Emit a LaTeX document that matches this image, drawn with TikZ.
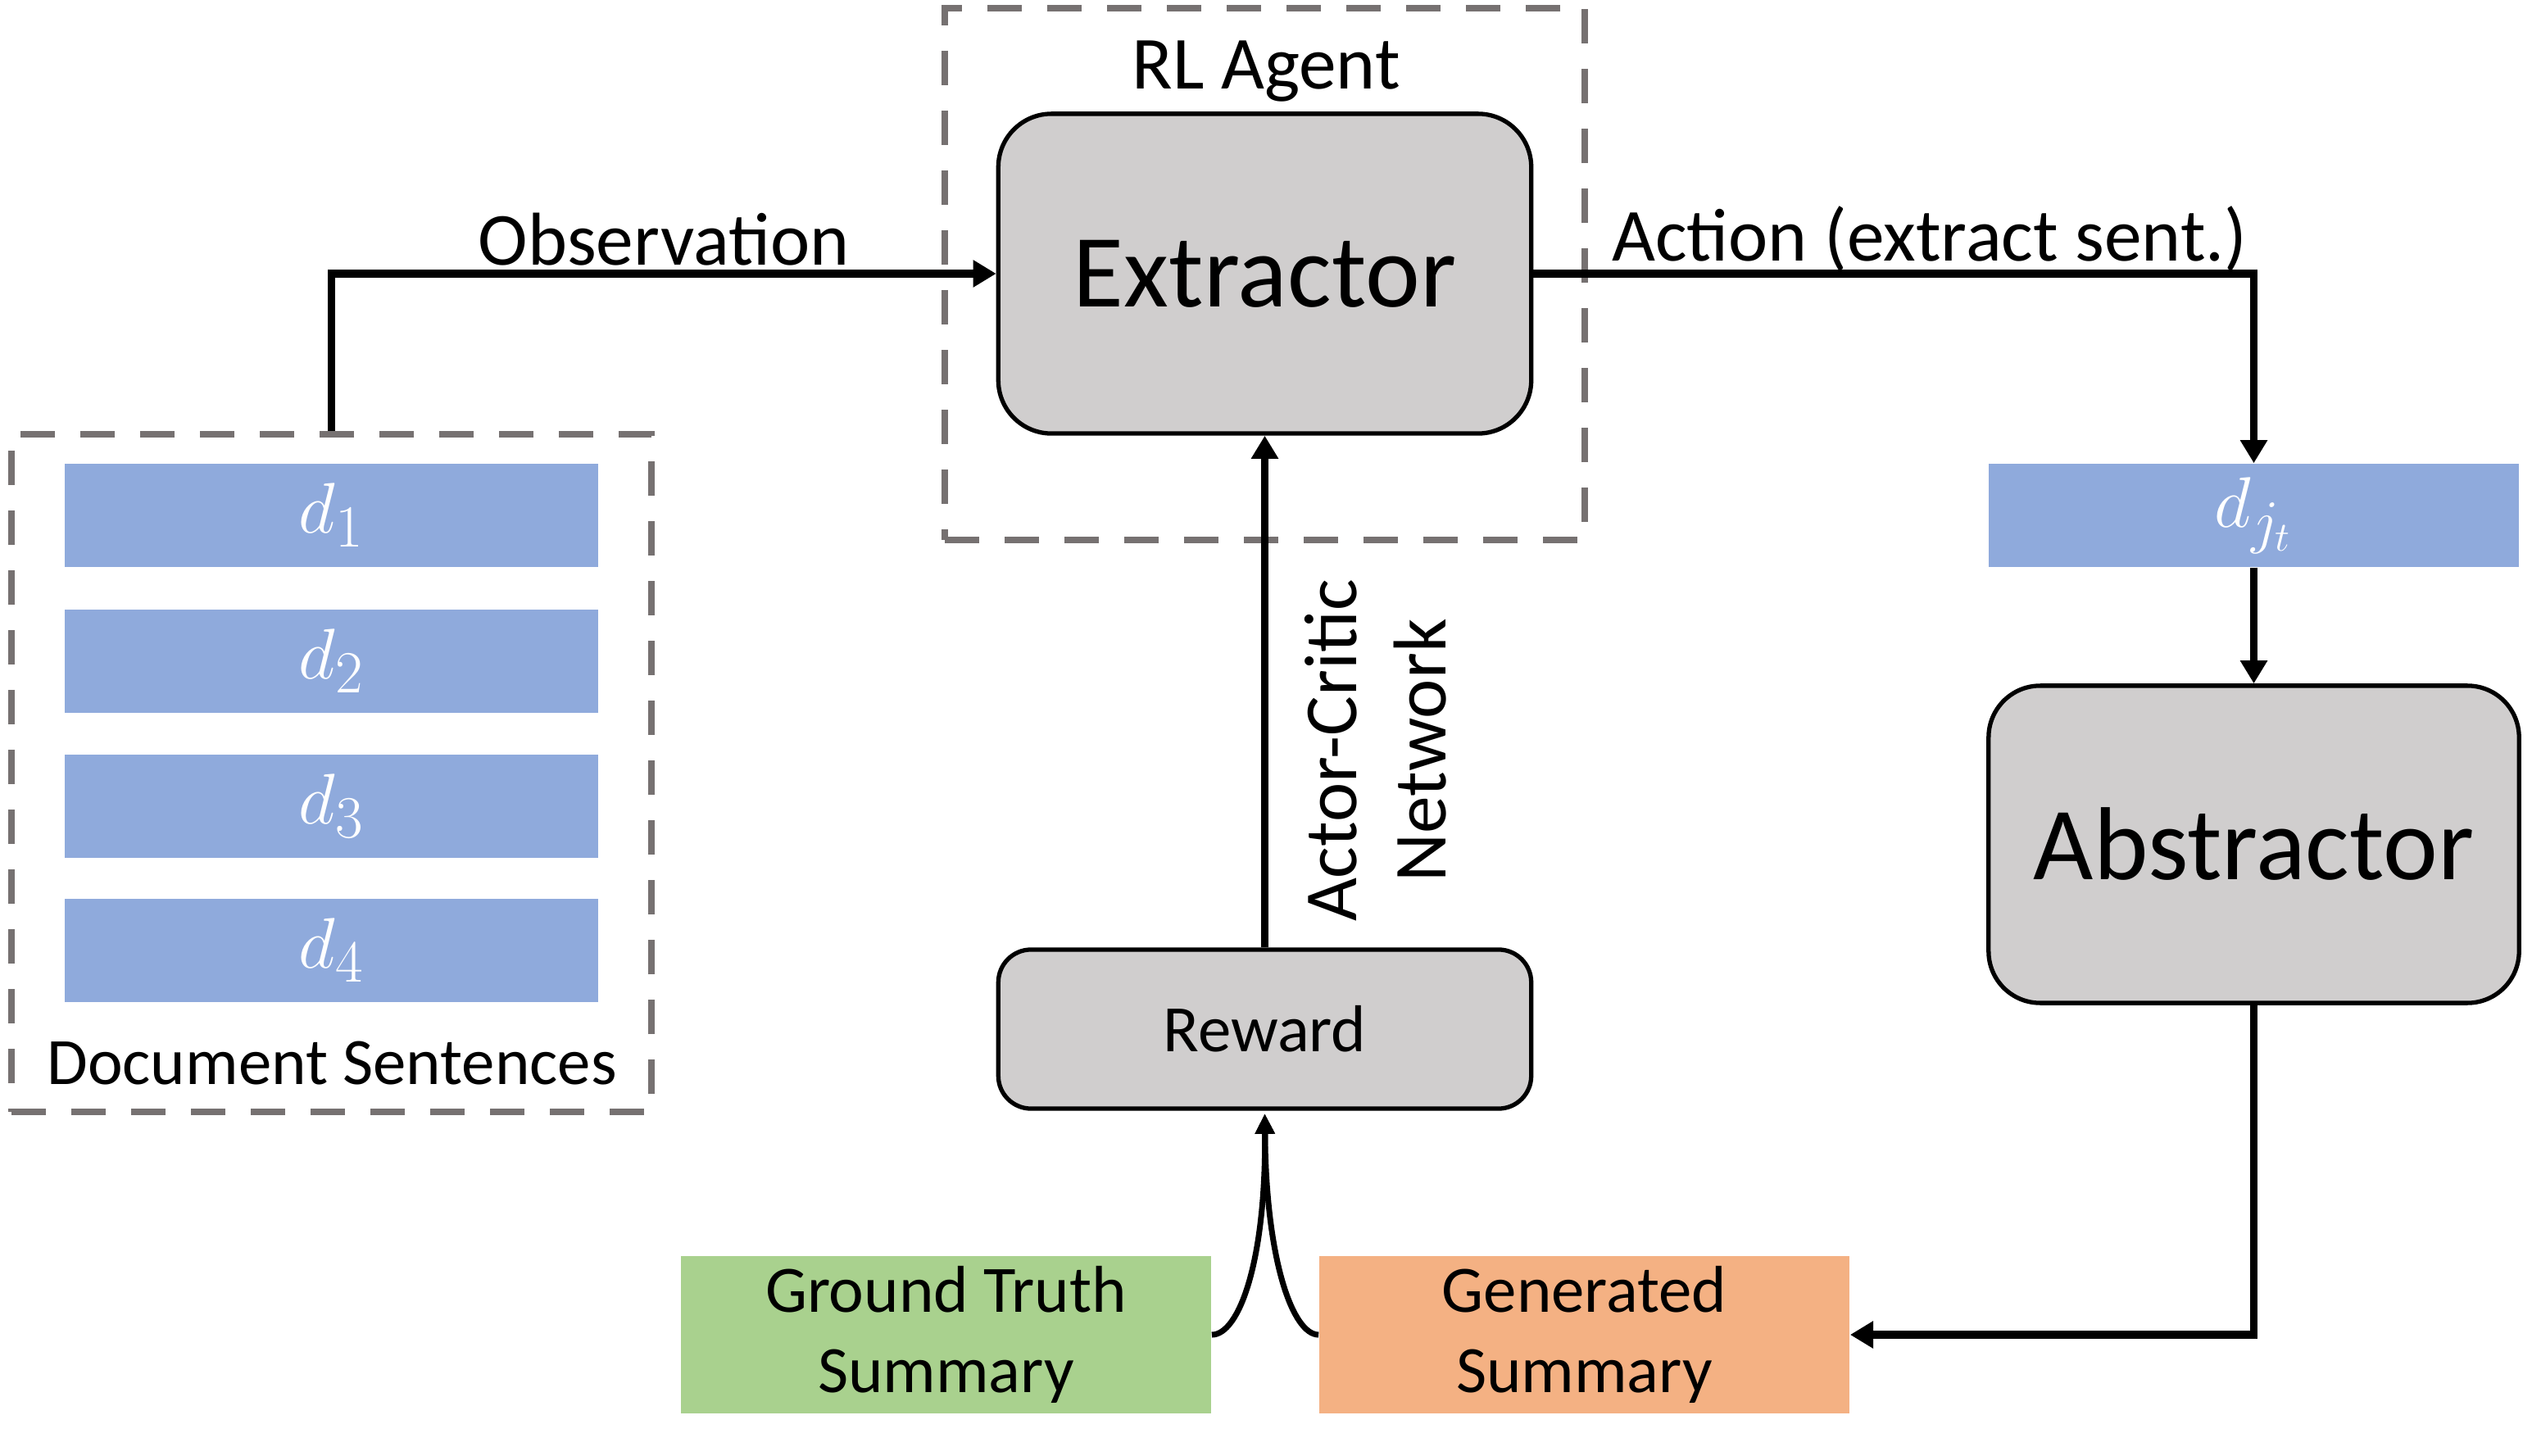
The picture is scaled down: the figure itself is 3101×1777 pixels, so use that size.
\documentclass[tikz,border=0pt]{standalone}
\usepackage{fontspec}
\setmainfont{Carlito}
\usetikzlibrary{arrows.meta}
\definecolor{barblue}{HTML}{8FAADC}
\definecolor{boxgray}{HTML}{D0CECE}
\definecolor{dashgray}{HTML}{767171}
\definecolor{gtgreen}{HTML}{A9D18E}
\definecolor{genorange}{HTML}{F4B183}
\tikzset{
  dashbox/.style={draw=dashgray, line width=2.4pt, dash pattern=on 0.42cm off 0.31cm, minimum width=7.81cm},
  bar/.style={fill=barblue, minimum width=6.5cm, minimum height=1.26cm, inner sep=0pt, text=white, font=\fontsize{28}{32}\selectfont},
  module/.style={draw=black, line width=1.5pt, fill=boxgray, rounded corners=0.65cm, minimum width=6.5cm, minimum height=3.9cm, font=\fontsize{36}{42}\selectfont},
  sumbox/.style={minimum width=6.47cm, minimum height=1.92cm, align=center, font=\fontsize{23}{28}\selectfont},
  lbl/.style={font=\fontsize{26}{31}\selectfont},
  conn/.style={line width=2.8pt, -{Triangle[length=8pt,width=9pt]}},
  thinconn/.style={line width=2pt, -{Triangle[length=7pt,width=6.5pt]}},
}
\begin{document}
\begin{tikzpicture}[x=0.01cm, y=-0.01cm]
\useasboundingbox (0,0) rectangle (3101,1777);
% dashed containers
\node[dashbox, minimum height=8.27cm] (docbox) at (404.5,943.5) {};
\node[dashbox, minimum height=6.49cm] (agentbox) at (1543.5,334.5) {};
% document sentences
\node[bar] (d1) at (404.5,629) {$d_1$};
\node[bar] (d2) at (404.5,807) {$d_2$};
\node[bar] (d3) at (404.5,984) {$d_3$};
\node[bar] (d4) at (404.5,1160) {$d_4$};
\node[font=\fontsize{23}{28}\selectfont] (doclbl) at (405,1298) {Document Sentences};
% agent
\node[lbl] (agentlbl) at (1545,87) {RL Agent};
\node[module] (extractor) at (1543.5,334) {Extractor};
% right side
\node[bar, minimum width=6.47cm] (djt) at (2750.5,629) {$d_{j_t}$};
\node[module, minimum width=6.47cm, minimum height=3.87cm, rounded corners=0.63cm] (abstractor) at (2750.5,1030.5) {Abstractor};
% reward
\node[module, minimum height=1.94cm, rounded corners=0.4cm, font=\fontsize{23}{28}\selectfont] (reward) at (1543.5,1256) {Reward};
\node[sumbox, fill=gtgreen] (gt) at (1154.5,1629) {Ground Truth\\Summary};
\node[sumbox, fill=genorange] (gen) at (1933.5,1629) {Generated\\Summary};
% connectors
\draw[conn] (docbox.north) |- (extractor.west)
  node[lbl, pos=0.75, above=-2pt] (obslbl) {Observation};
\draw[conn] (extractor.east) -| (djt.north)
  node[lbl, pos=0.275, above=-4pt] (actlbl) {Action (extract sent.)};
\draw[conn] (djt.south) -- (abstractor.north);
\draw[conn] (abstractor.south) |- (gen.east);
\draw[conn] (reward.north) -- (extractor.south);
\node[lbl, rotate=90, align=center] (aclbl) at (1679,916) {Actor-Critic\\Network};
\coordinate (rin) at ([yshift=-1pt]reward.south);
\draw[thinconn] (gt.east) .. controls (1512,1629) and (1545,1540) .. (rin);
\draw[thinconn] (gen.west) .. controls (1578,1629) and (1545,1540) .. (rin);
\end{tikzpicture}
\end{document}
